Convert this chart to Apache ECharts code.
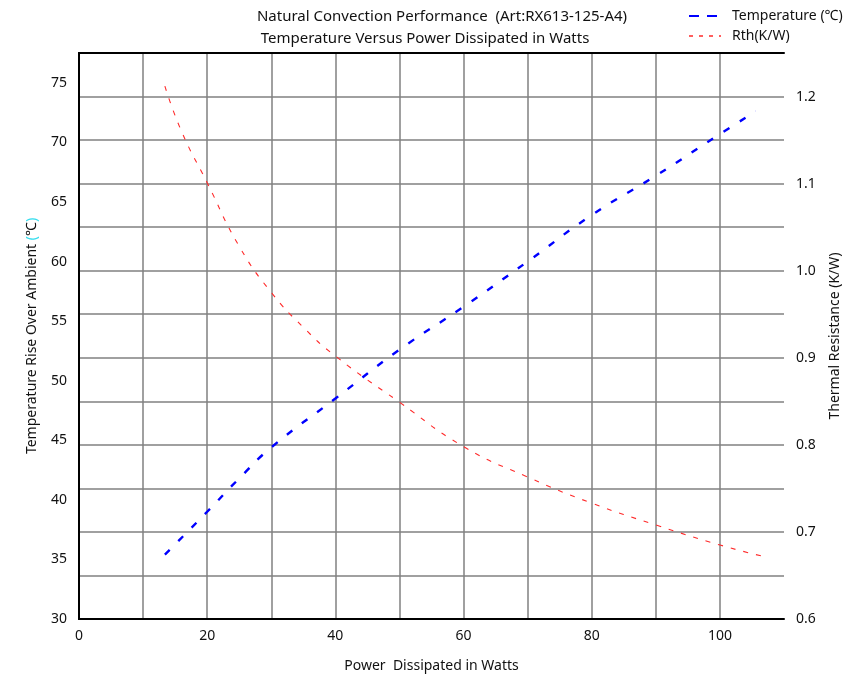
<!DOCTYPE html>
<html>
<head>
<meta charset="utf-8">
<script src="https://cdn.jsdelivr.net/npm/echarts@6/dist/echarts.min.js"></script>
<style>
  html, body { margin: 0; padding: 0; background: #fff; }
  #chart { width: 850px; height: 678px; }
</style>
</head>
<body>
<div id="chart"></div>
<script>
// 读图估计的数据
const tempPower = [13.4, 20, 25, 30, 40, 50, 60, 70, 80, 90, 100, 105.6]
const tempValues = [35.4, 39.0, 41.8, 44.4, 48.5, 52.6, 56.2, 60.0, 63.9, 67.2, 70.7, 72.6]
const rthPower = [13.4, 16, 20, 25, 30, 35, 40, 50, 60, 70, 80, 90, 100, 106.7]
const rthValues = [1.212, 1.16, 1.101, 1.028, 0.975, 0.935, 0.902, 0.849, 0.798, 0.763, 0.733, 0.708, 0.685, 0.672]
const seriesNames = ['Temperature (\u2103)', 'Rth(K/W)']

const font = 'Noto Sans'
const textColor = '#111'

const toPairs = (xs, ys) => xs.map((x, i) => [x, ys[i]])

const chart = echarts.init(document.getElementById('chart'))

chart.setOption({
  backgroundColor: '#fff',
  animation: false,
  textStyle: { fontFamily: font },
  title: [
    {
      text: 'Natural Convection Performance  (Art:RX613-125-A4)',
      left: 437, top: 4, textAlign: 'center',
      textStyle: { fontSize: 15, fontWeight: 'normal', color: textColor, fontFamily: font }
    },
    {
      text: 'Temperature Versus Power Dissipated in Watts',
      left: 420, top: 26, textAlign: 'center',
      textStyle: { fontSize: 15, fontWeight: 'normal', color: textColor, fontFamily: font }
    }
  ],
  legend: {
    orient: 'vertical',
    left: 683, top: 4,
    itemWidth: 32, itemHeight: 10, itemGap: 6,
    itemStyle: { color: 'transparent', borderWidth: 0, opacity: 0 },
    textStyle: { fontSize: 14, color: textColor, fontFamily: font, padding: [0, 0, 0, 6] },
    data: [
      { name: seriesNames[0], lineStyle: { type: [10, 8], width: 2 } },
      { name: seriesNames[1], lineStyle: { type: [4, 6], width: 1.3 } }
    ]
  },
  grid: { left: 79, right: 66, top: 53, bottom: 58 },
  xAxis: [
    {
      type: 'value',
      min: 0, max: 110, interval: 10,
      name: 'Power  Dissipated in Watts',
      nameLocation: 'middle', nameGap: 40,
      nameTextStyle: { fontSize: 14, color: textColor },
      axisLine: { lineStyle: { color: '#000', width: 2 } },
      axisTick: { show: false },
      axisLabel: {
        fontSize: 14, color: textColor, margin: 10,
        formatter: v => (v % 20 === 0 ? String(v) : '')
      },
      splitLine: { show: true, showMinLine: false, showMaxLine: false, lineStyle: { color: '#808080', width: 1.5 } }
    },
    {
      type: 'value', position: 'top',
      min: 0, max: 110,
      axisLine: { show: true, lineStyle: { color: '#000', width: 2 } },
      axisTick: { show: false }, axisLabel: { show: false }, splitLine: { show: false }
    }
  ],
  yAxis: [
    {
      type: 'value',
      min: 30, max: 77.5, interval: 5,
      name: '{t|Temperature Rise Over Ambient }{p|(}{t|\u2103}{p|)}',
      nameLocation: 'middle', nameGap: 40, nameRotate: 90,
      nameTextStyle: {
        rich: {
          t: { fontSize: 14, color: textColor, fontFamily: font },
          p: { fontSize: 14, color: '#33ddee', fontFamily: font }
        }
      },
      axisLine: { show: true, lineStyle: { color: '#000', width: 2 } },
      axisTick: { show: false },
      axisLabel: { fontSize: 14, color: textColor, margin: 12, showMaxLabel: false },
      splitLine: { show: false }
    },
    {
      type: 'value',
      min: 0.6, max: 1.25, interval: 0.05,
      name: 'Thermal Resistance (K/W)',
      nameLocation: 'middle', nameGap: 44, nameRotate: 90,
      nameTextStyle: { fontSize: 14, color: textColor },
      axisLine: { show: true, lineStyle: { color: '#000', width: 2 } },
      axisTick: { show: false },
      axisLabel: {
        fontSize: 14, color: textColor, margin: 12,
        formatter: v => (Math.round(v * 100) % 10 === 0 ? v.toFixed(1) : '')
      },
      splitLine: { show: true, showMinLine: false, showMaxLine: false, lineStyle: { color: '#808080', width: 1.5 } }
    }
  ],
  series: [
    {
      name: seriesNames[0],
      type: 'line',
      smooth: true,
      symbol: 'none',
      yAxisIndex: 0,
      lineStyle: { color: '#0000ff', width: 2.4, type: [7, 12] },
      itemStyle: { color: '#0000ff' },
      data: toPairs(tempPower, tempValues)
    },
    {
      name: seriesNames[1],
      type: 'line',
      smooth: true,
      symbol: 'none',
      yAxisIndex: 1,
      lineStyle: { color: '#ff2a2a', width: 1.1, type: [5, 8] },
      itemStyle: { color: '#ff2a2a' },
      data: toPairs(rthPower, rthValues)
    }
  ]
})
</script>
</body>
</html>
